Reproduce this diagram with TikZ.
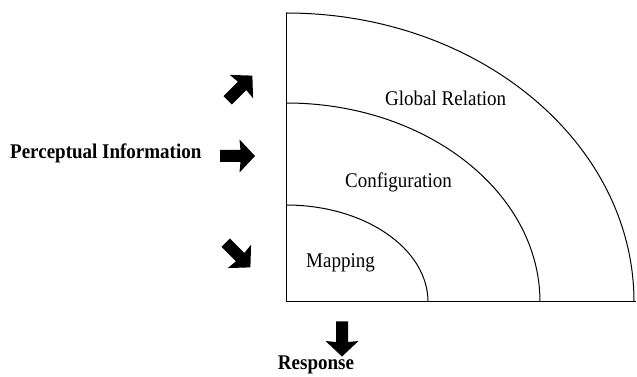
\documentclass[tikz,border=0pt]{standalone}
\usepackage{fontspec}
\setmainfont{Liberation Serif}
\newcommand{\stretchtxt}[1]{\scalebox{1}[1.1]{#1}}
\begin{document}
\begin{tikzpicture}[x=1pt,y=1pt,
  lbl/.style={inner sep=0pt, font=\fontsize{19}{22}\selectfont},
  blbl/.style={lbl, font=\fontsize{19}{22}\selectfont\bfseries},
  edge/.style={line width=1pt, black},
  blockarrow/.pic={\fill[black] (-17.5,-6) -- (3,-6) -- (2,-16.5) -- (17.5,0) -- (2,16.5) -- (3,6) -- (-17.5,6) -- cycle;}
]
\useasboundingbox (0,0) rectangle (637,377);
% axes
\coordinate (O) at (286,75);
\coordinate (T) at (286,364);
\coordinate (R) at (636,75);
\draw[edge] (T) -- (O) -- (R);
% arcs
\draw[edge] (286,172) arc[start angle=90, end angle=0, x radius=142, y radius=97];
\draw[edge] (286,274) arc[start angle=90, end angle=0, x radius=254, y radius=199];
\draw[edge] (286,364) arc[start angle=90, end angle=0, x radius=348, y radius=289];
% labels
\node[lbl, anchor=base west] (glob) at (385,271) {\stretchtxt{Global Relation}};
\node[lbl, anchor=base west] (conf) at (345,189) {\stretchtxt{Configuration}};
\node[lbl, anchor=base west] (map) at (306,109) {\stretchtxt{Mapping}};
\node[blbl, anchor=base west] (perc) at (10,218) {\stretchtxt{Perceptual Information}};
\node[blbl, anchor=base] (resp) at (316,7) {\stretchtxt{Response}};
% block arrows
\pic[rotate=45] at (240,289) {blockarrow};
\pic at (237.5,221) {blockarrow};
\pic[rotate=-45] at (238,122) {blockarrow};
\pic[rotate=-90] at (342,38) {blockarrow};
\end{tikzpicture}
\end{document}
